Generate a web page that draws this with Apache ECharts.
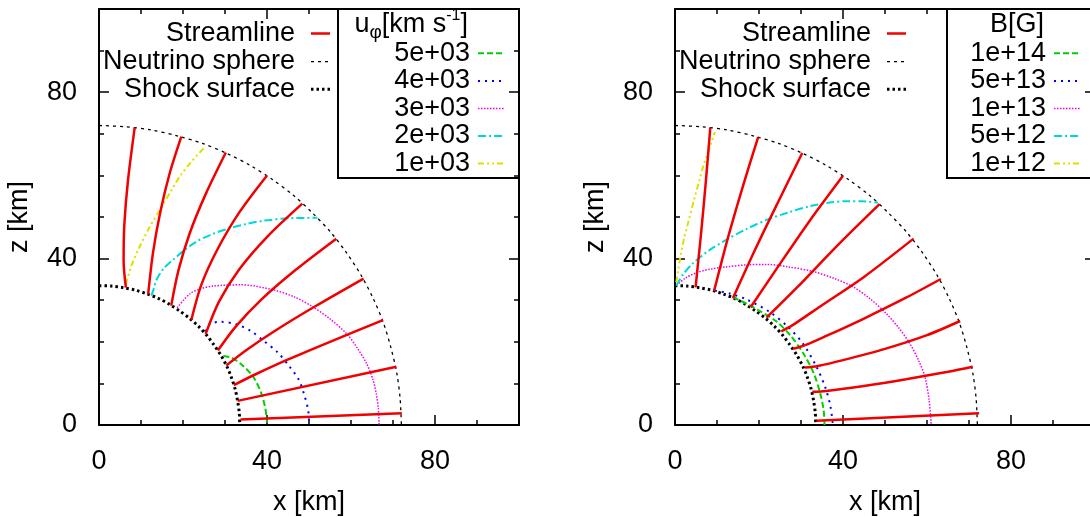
<!DOCTYPE html>
<html><head><meta charset="utf-8">
<script src="https://cdn.jsdelivr.net/npm/echarts@6/dist/echarts.min.js"></script>
<style>html,body{margin:0;padding:0;background:#fff}#c{width:1090px;height:517px}</style>
</head><body><div id="c"></div>
<script>
// ---------- data (km) ----------
const neutrinoSphere = [[0,72],[6.3,71.7],[12.5,70.9],[18.6,69.5],[24.6,67.7],[30.4,65.3],[36,62.4],[41.3,59],[46.3,55.2],[50.9,50.9],[55.2,46.3],[59,41.3],[62.4,36],[65.3,30.4],[67.7,24.6],[69.5,18.6],[70.9,12.5],[71.7,6.3],[72,0]];
const shockSurface = [[0,33.5],[2.9,33.4],[5.8,33],[8.7,32.4],[11.5,31.5],[14.2,30.4],[16.8,29],[19.2,27.4],[21.5,25.7],[23.7,23.7],[25.7,21.5],[27.4,19.2],[29,16.8],[30.4,14.2],[31.5,11.5],[32.4,8.7],[33,5.8],[33.4,2.9],[33.5,0]];

const streamU = [
 [[6.4,33],[5.86,39.5],[6.03,48.1],[6.9,58.8],[8.5,71.5]],
 [[11.7,31.4],[12.87,41.5],[14.6,51.2],[16.8,60.4],[19.6,69.3]],
 [[17.2,28.7],[18.9,37.1],[21.6,46.1],[25.4,55.5],[30.2,65.5]],
 [[22,25.3],[24.4,33.8],[28.25,42.3],[33.4,51.1],[40,60]],
 [[25.4,21.9],[28.6,29.7],[33.45,37.5],[40.1,45.3],[48.4,53.2]],
 [[28.3,17.9],[32.6,23.7],[38.7,30.2],[46.7,37.2],[56.5,44.8]],
 [[30.3,14.3],[35.2,18.1],[42.3,22.9],[51.6,28.6],[63,35.2]],
 [[32.1,9.6],[37.3,12.2],[44.9,15.7],[55,20],[67.6,25.2]],
 [[33,5.8],[70.8,14]],
 [[33.7,1.3],[72.1,2.8]]
];
const streamB = [
 [[4.9,33.1],[6.1,45],[7.3,58],[8.4,71.5]],
 [[9.3,32.2],[12.6,45],[16.2,57.5],[19.8,69.2]],
 [[13.8,30.5],[19,42],[24.5,53.5],[30.3,65.4]],
 [[18,28.3],[24.5,38],[32,49],[40,59.9]],
 [[21.8,25.8],[29,33],[39,43.5],[48.7,53.1]],
 [[25.3,22.5],[28,24],[35,28.8],[45,35.6],[56.8,44.8]],
 [[28.1,18.3],[31,19.2],[36,21.4],[45,25.6],[55,30.6],[63.3,35.1]],
 [[30.9,13.8],[34,14.2],[40,15.6],[50,18.3],[60,21.6],[67.9,25]],
 [[32.7,8],[36,8.2],[45,9.4],[55,11],[65,12.8],[70.9,14]],
 [[33.7,1],[72.4,2.8]]
];

const uphi5e3 = [[29.6,16.6],[31.5,16.2],[34,14.5],[36.7,11.6],[38.5,8],[39.6,4],[40,0.5]];
const uphi4e3 = [[25.2,22.5],[26.5,24.3],[29,24.8],[32.7,24.2],[36,22.7],[39,20.4],[42.5,17.5],[45.4,14],[47.5,11],[48.8,7.5],[49.8,3.6],[50,0.8]];
const uphi3e3 = [[18.6,28.2],[21.6,31.5],[24,32.7],[27.1,33.4],[33.9,33.7],[41.4,32.5],[46.5,30.8],[50.9,28.4],[55,25.5],[58.9,22],[61.5,18.5],[63.7,14.8],[65.2,11],[66,7.6],[66.5,4],[66.7,0]];
const uphi2e3 = [[12.5,31.1],[13.1,33],[13.7,34.9],[15.3,37.5],[17.6,39.7],[20.3,42],[23.2,44.1],[27,45.9],[31.1,47.3],[35,48.3],[39,49.1],[45.4,49.7],[52,49.8]];
const uphi1e3 = [[6.4,33.8],[7.8,38.5],[9.7,42.9],[12,47.5],[14.5,51.7],[17,56],[19.2,59.7],[22,63.3],[25.2,66.8]];

const b1e14 = [[13.8,30.7],[17,29.2],[20,27.5],[24,25],[27.5,21.5],[30.5,17.3],[33,12.5],[34.6,7.5],[35.4,3.5],[35.6,0]];
const b5e13 = [[9.5,32.3],[13,31.6],[17,30.2],[22.5,27.2],[27,23.5],[30.5,19.5],[33.7,14],[35.8,9],[37,4.5],[37.6,0]];
const b1e13 = [[0.3,33.6],[2.5,35.3],[5.1,36.6],[8.5,37.5],[12.2,38],[17,38.5],[21.8,38.6],[27,38],[32.9,36.9],[38,35.2],[42.4,33.2],[46.5,30.3],[50.3,26.8],[53.3,23.3],[55.9,19.6],[58,15.5],[59.5,11.6],[60.5,6],[61,0]];
const b5e12 = [[0.3,33.5],[2,36.3],[4.3,38.9],[8,41.9],[12.2,44.5],[17,47.1],[21.8,49.3],[27,51.1],[32.1,52.6],[36.5,53.4],[40.8,53.8],[44.5,53.8],[48.3,53.4]];
const b1e12 = [[0.3,34.3],[1.2,40],[2.2,45],[3.1,48.5],[4.5,54],[5.6,58],[6.7,62.1],[8,66],[9.5,70.4]];

const keyNames = ['Streamline', 'Neutrino sphere', 'Shock surface'];
const uphiLabels = ['5e+03', '4e+03', '3e+03', '2e+03', '1e+03'];
const bLabels = ['1e+14', '5e+13', '1e+13', '5e+12', '1e+12'];

// ---------- styles ----------
const FONT = '"Liberation Sans", Arial, Helvetica, sans-serif';
const FS = 27;
const STY = {
  stream: {color:'#f00000', width:2.5, type:'solid'},
  nu:     {color:'#000000', width:1.3, type:[3,4]},
  shock:  {color:'#000000', width:3, type:[2.5,3]},
  c: [
    {color:'#00d000', width:2, type:[6,3]},
    {color:'#0000f0', width:2, type:[2,5]},
    {color:'#f000f0', width:1.5, type:[1.5,1.5]},
    {color:'#00d8d8', width:2, type:[8,3,2,3]},
    {color:'#e0e000', width:2, type:[6,3,2,3,2,3]}
  ]
};

const panels = [
  {ox:0,   streams:streamU, contours:[uphi5e3,uphi4e3,uphi3e3,uphi2e3,uphi1e3], labels:uphiLabels,
   title:'{a|u}{s|φ}{a|[km s}{p|-1}{a|]}', boxLeft:338},
  {ox:576, streams:streamB, contours:[b1e14,b5e13,b1e13,b5e12,b1e12], labels:bLabels,
   title:'{a|B[G]}', boxLeft:947}
];

const tickStyle = {color:'#000', width:1.5};
const lineS = {color:'#000', width:2};
const labelS = {color:'#000', fontSize:FS, fontFamily:FONT};

const grids = [], xAxes = [], yAxes = [], series = [], graphics = [];
panels.forEach((p, gi) => {
  grids.push({left:99 + p.ox, top:9, width:420, height:416, outerBoundsMode:'none', containLabel:false});
  const base = {gridIndex:gi, type:'value', min:0, max:100, splitLine:{show:false}};
  const minor = (pos, z) => ({...base, position:pos, interval:10, z:z,
     axisLine:{show:true, onZero:false, lineStyle:lineS},
     axisTick:{show:true, inside:true, length:5, lineStyle:tickStyle}, axisLabel:{show:false}});
  const major = (pos, z, extra) => ({...base, position:pos, interval:40, z:z,
     axisLine:{show:false, onZero:false},
     axisTick:{show:true, inside:true, length:10, lineStyle:tickStyle}, axisLabel:{show:false}, ...(extra||{})});
  xAxes.push(minor('bottom',0));
  xAxes.push(major('bottom',0,{axisLabel:{show:true, margin:23, showMaxLabel:false, ...labelS},
     name:'x [km]', nameLocation:'middle', nameGap:64, nameTextStyle:labelS}));
  xAxes.push(minor('top',0));
  xAxes.push(major('top',0));
  yAxes.push(minor('left',0));
  yAxes.push(major('left',0,{axisLabel:{show:true, margin:22, showMaxLabel:false, ...labelS},
     name:'z [km]', nameLocation:'middle', nameGap:66, nameTextStyle:labelS}));
  yAxes.push(minor('right',6));
  yAxes.push(major('right',6));

  const ax = 4*gi;
  const add = (name, data, s) => series.push({type:'line', name, xAxisIndex:ax, yAxisIndex:ax,
     data, symbol:'none', showSymbol:false, smooth:0.3, silent:true, animation:false,
     lineStyle:{color:s.color, width:s.width, type:s.type}});
  add('Neutrino sphere', neutrinoSphere, STY.nu);
  add('Shock surface', shockSurface, STY.shock);
  p.contours.forEach((c, i) => add(p.labels[i], c, STY.c[i]));
  p.streams.forEach(s => add('Streamline', s, STY.stream));

  // key 1
  const k1 = [STY.stream, STY.nu, STY.shock];
  const k1y = [33.5, 61.7, 89.3];
  keyNames.forEach((n, i) => {
    graphics.push({type:'text', z:7, style:{text:n, x:295 + p.ox, y:k1y[i], textAlign:'right', textVerticalAlign:'middle', fill:'#000', font:FS + 'px ' + FONT}});
    graphics.push({type:'line', z:7, shape:{x1:311 + p.ox, y1:k1y[i], x2:330 + p.ox, y2:k1y[i]},
      style:{stroke:k1[i].color, lineWidth:k1[i].width, lineDash:k1[i].type === 'solid' ? null : k1[i].type}});
  });
  // key 2 box
  graphics.push({type:'rect', z:3, shape:{x:p.boxLeft, y:9, width:(519 + p.ox) - p.boxLeft, height:169},
     style:{fill:'#fff', stroke:'#000', lineWidth:2}});
  graphics.push({type:'text', z:7, style:{text:p.title, x:468 + p.ox, y:25, textAlign:'right', textVerticalAlign:'middle', fill:'#000',
     rich:{a:{fontSize:FS, fontFamily:FONT, lineHeight:34, verticalAlign:'middle'},
           s:{fontSize:19, fontFamily:FONT, lineHeight:18, verticalAlign:'bottom'},
           p:{fontSize:16, fontFamily:FONT, lineHeight:15, verticalAlign:'top'}}}});
  const k2y = [53.3, 81, 108.5, 136, 163.5];
  p.labels.forEach((n, i) => {
    graphics.push({type:'text', z:7, style:{text:n, x:470 + p.ox, y:k2y[i], textAlign:'right', textVerticalAlign:'middle', fill:'#000', font:FS + 'px ' + FONT}});
    graphics.push({type:'line', z:7, shape:{x1:478 + p.ox, y1:k2y[i], x2:504 + p.ox, y2:k2y[i]},
      style:{stroke:STY.c[i].color, lineWidth:STY.c[i].width, lineDash:STY.c[i].type}});
  });
});

const chart = echarts.init(document.getElementById('c'), null, {renderer:'canvas'});
chart.setOption({
  animation:false,
  backgroundColor:'#fff',
  grid:grids, xAxis:xAxes, yAxis:yAxes, series:series,
  graphic:{elements:graphics}
});
</script></body></html>
